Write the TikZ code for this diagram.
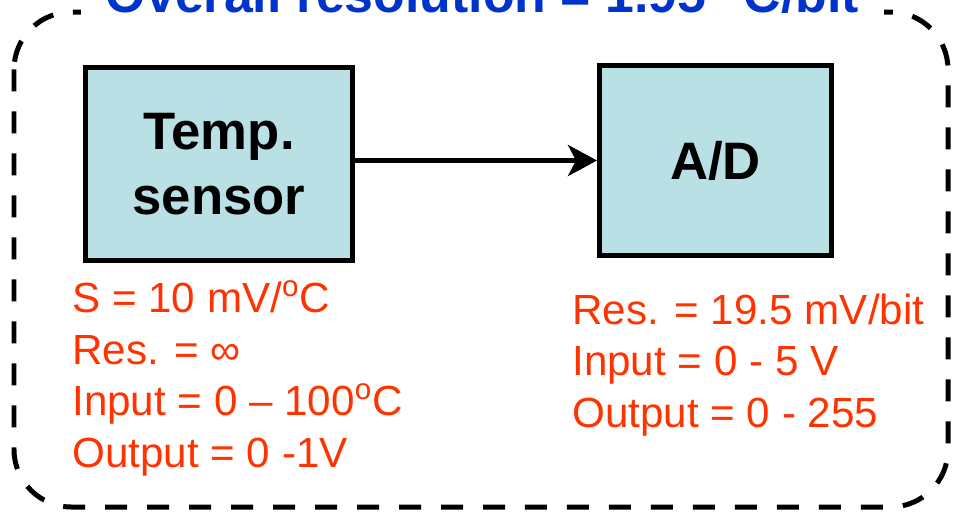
\documentclass[tikz,border=0pt]{standalone}
\usepackage{fontspec}
\setmainfont{Liberation Sans}
\usetikzlibrary{arrows.meta}
\definecolor{blockfill}{RGB}{185,224,228}
\definecolor{specred}{RGB}{255,51,0}
\definecolor{titleblue}{RGB}{0,51,204}
\begin{document}
\begin{tikzpicture}[x=0.02cm, y=-0.02cm,
    block/.style={draw, line width=0.1cm, fill=blockfill, align=center,
                  font=\fontsize{30}{37}\selectfont\bfseries},
    specs/.style={text=specred, align=left, inner sep=0pt,
                  font=\fontsize{24}{29.3}\selectfont},
    flow/.style={line width=0.1cm, -{Stealth[length=0.58cm, width=0.62cm, inset=0.16cm]}}]
  \useasboundingbox (0,0) rectangle (954,511);

  % Dashed frame round the whole chain
  \draw[line width=0.1cm, dash pattern=on 0.44cm off 0.4cm, rounded corners=1.15cm]
    (14,12) rectangle (948,507);
  \node[fill=white, inner xsep=0.5cm, inner ysep=0.1cm, anchor=base, text=titleblue,
        font=\fontsize{29.5}{35}\selectfont\bfseries] (title) at (482.5,12)
    {Overall resolution = 1.95 \textsuperscript{o}C/bit};

  % The two blocks
  \node[block, minimum width=5.34cm, minimum height=3.86cm] (sensor) at (219,164)
    {Temp.\\sensor};
  \node[block, minimum width=4.64cm, minimum height=3.8cm] (adc) at (715.5,160.5)
    {A/D};
  \draw[flow] (sensor.east |- adc.west) -- (adc.west);

  % What each block does (anchored on the last line)
  \node[specs, anchor=base west] (sensorspecs) at (72,467) {
    S = 10 mV/\textsuperscript{o}C\\
    Res. = ∞\\
    Input = 0 – 100\textsuperscript{o}C\\
    Output = 0 -1V
  };
  \node[specs, anchor=base west] (adcspecs) at (572,427) {
    Res. = 19.5 mV/bit\\
    Input = 0 - 5 V\\
    Output = 0 - 255
  };
\end{tikzpicture}
\end{document}
